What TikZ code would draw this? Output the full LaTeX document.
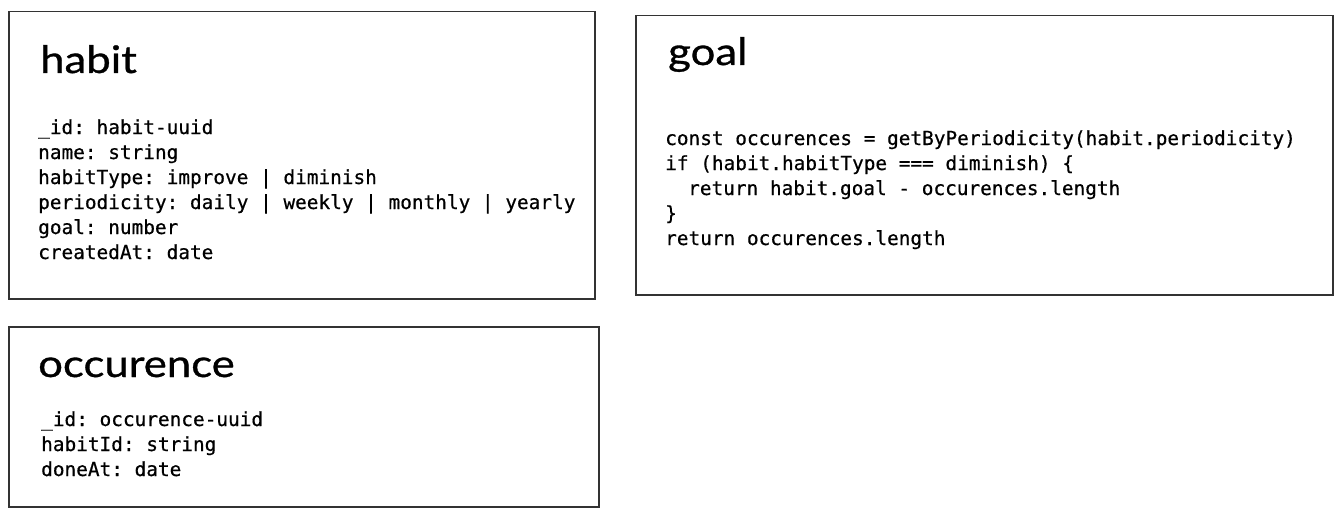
\documentclass[tikz,border=0pt]{standalone}
\usepackage{fontspec}
\setmonofont[FakeBold=0.6]{DejaVu Sans Mono}
\newfontfamily\handfont[FakeStretch=1.15,FakeBold=0.8]{Lato}
\begin{document}
\begin{tikzpicture}[x=1pt,y=-1pt,
  box/.style={draw=black!80, line width=1.5pt, rectangle, inner sep=0pt, anchor=north west},
  title/.style={anchor=base west, inner sep=0pt, font=\handfont\fontsize{38}{40}\selectfont},
  code/.style={anchor=base west, inner sep=0pt, font=\ttfamily\fontsize{19.4}{25}\selectfont}]
\useasboundingbox[fill=white] (0,0) rectangle (1340,516);
% boxes
\node[box, minimum width=586pt, minimum height=287pt] (habit) at (8,11) {};
\node[box, minimum width=697pt, minimum height=279pt] (goal) at (635,15) {};
\node[box, minimum width=590pt, minimum height=180pt] (occ) at (8,326) {};
% titles
\node[title] (thabit) at (40,73) {habit};
\node[title] (tgoal) at (668,65) {goal};
\node[title] (tocc) at (38,377) {occurence};
% habit fields
\node[code] (h1) at (38,134) {\_id: habit-uuid};
\node[code] (h2) at (38,159) {name: string};
\node[code] (h3) at (38,184) {habitType: improve | diminish};
\node[code] (h4) at (38,209) {periodicity: daily | weekly | monthly | yearly};
\node[code] (h5) at (38,234) {goal: number};
\node[code] (h6) at (38,259) {createdAt: date};
% goal code
\node[code] (g1) at (665,145) {const occurences = getByPeriodicity(habit.periodicity)};
\node[code] (g2) at (665,170) {if (habit.habitType === diminish) \{};
\node[code] (g3) at (688,195) {return habit.goal - occurences.length};
\node[code] (g4) at (665,220) {\}};
\node[code] (g5) at (665,245) {return occurences.length};
% occurence fields
\node[code] (o1) at (41,426) {\_id: occurence-uuid};
\node[code] (o2) at (41,451) {habitId: string};
\node[code] (o3) at (41,476) {doneAt: date};
\end{tikzpicture}
\end{document}
